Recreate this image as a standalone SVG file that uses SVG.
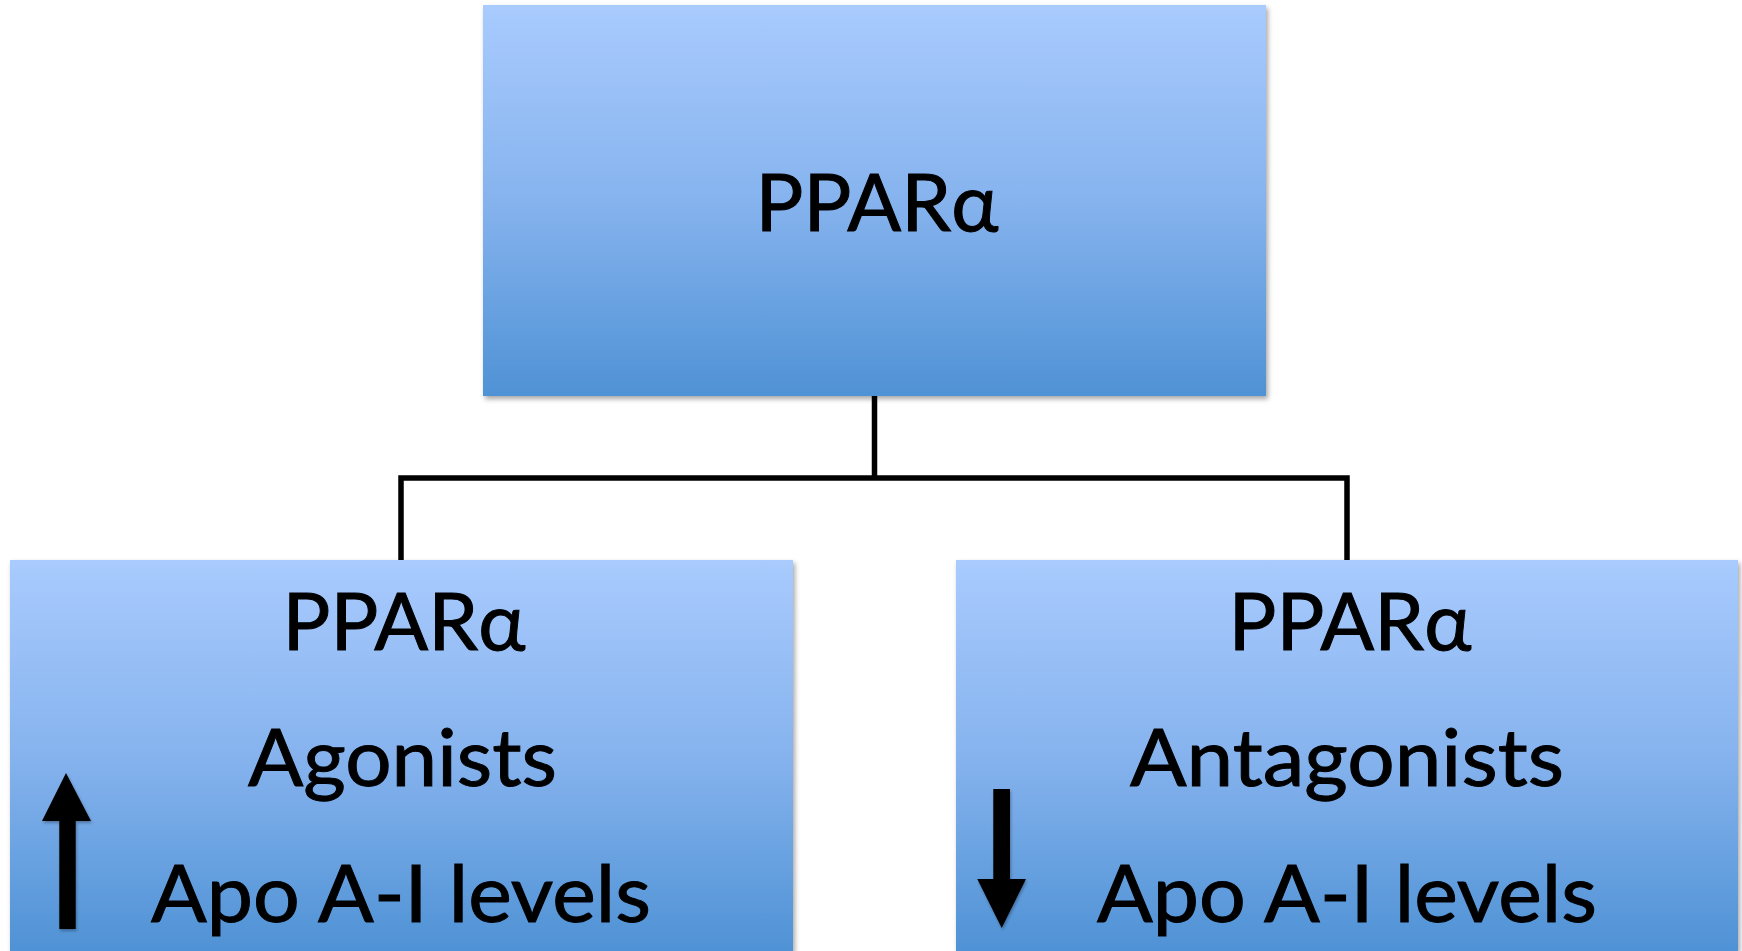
<svg xmlns="http://www.w3.org/2000/svg" width="1742" height="951" viewBox="0 0 1742 951">
  <style>
    .box { fill: url(#blueGrad); filter: url(#shadow); }
    .lbl { font-family: Lato, "Open Sans", "Liberation Sans", sans-serif; font-size: 80px; fill: #000; stroke: #000; stroke-width: 1; text-anchor: middle; }
    .conn { fill: none; stroke: #000; stroke-width: 5.5; stroke-linejoin: miter; }
    .arrow { fill: #000; filter: url(#lineShadow); }
  </style>
  <defs>
    <linearGradient id="blueGrad" x1="0" y1="0" x2="0" y2="1">
      <stop offset="0" stop-color="#A9CBFE"/>
      <stop offset="0.5" stop-color="#86B3EE"/>
      <stop offset="1" stop-color="#4F92D5"/>
    </linearGradient>
    <filter id="shadow" x="-5%" y="-5%" width="115%" height="115%">
      <feDropShadow dx="2" dy="3" stdDeviation="2.5" flood-color="#000" flood-opacity="0.35"/>
    </filter>
    <filter id="lineShadow" x="-20%" y="-20%" width="140%" height="140%">
      <feDropShadow dx="1" dy="2" stdDeviation="1.5" flood-color="#000" flood-opacity="0.3"/>
    </filter>
  </defs>
  <rect width="1742" height="951" fill="#fff"/>

  <g id="connectors">
    <path class="conn" d="M874.5,396 V478 M401,560 V478 H1347 V560"/>
  </g>

  <g id="node-top">
    <rect class="box" x="483" y="5" width="783" height="391"/>
    <text class="lbl" x="877" y="231" textLength="243" lengthAdjust="spacingAndGlyphs">PPARα</text>
  </g>

  <g id="node-agonists">
    <rect class="box" x="10" y="560" width="783" height="391"/>
    <text class="lbl" x="404" y="650" textLength="243" lengthAdjust="spacingAndGlyphs">PPARα</text>
    <text class="lbl" x="402.5" y="786" textLength="309" lengthAdjust="spacingAndGlyphs">Agonists</text>
    <text class="lbl" x="401" y="922" textLength="500" lengthAdjust="spacingAndGlyphs">Apo A-I levels</text>
    <polygon class="arrow" points="66,773 91,821 75.7,821 75.7,929 59.3,929 59.3,821 42,821"/>
  </g>

  <g id="node-antagonists">
    <rect class="box" x="956" y="560" width="782" height="391"/>
    <text class="lbl" x="1350" y="650" textLength="243" lengthAdjust="spacingAndGlyphs">PPARα</text>
    <text class="lbl" x="1347" y="786" textLength="434" lengthAdjust="spacingAndGlyphs">Antagonists</text>
    <text class="lbl" x="1347" y="922" textLength="500" lengthAdjust="spacingAndGlyphs">Apo A-I levels</text>
    <polygon class="arrow" points="993.3,789 1010,789 1010,879 1026,879 1001.7,928 977.3,879 993.3,879"/>
  </g>
</svg>
